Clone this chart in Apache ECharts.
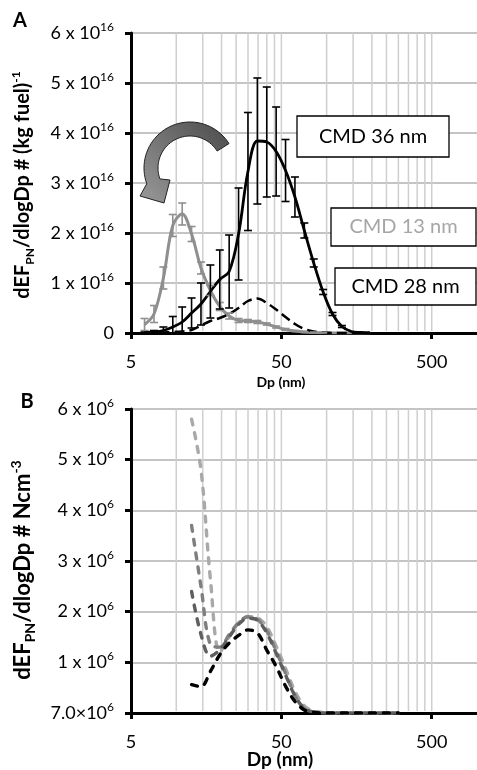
<!DOCTYPE html>
<html>
<head>
<meta charset="utf-8">
<script src="https://cdn.jsdelivr.net/npm/echarts@6/dist/echarts.min.js"></script>
<style>
  html, body { margin: 0; padding: 0; background: #fff; }
  #chart { width: 477px; height: 770px; }
</style>
</head>
<body>
<div id="chart"></div>
<script>
const FONT = 'Lato';
const log10 = Math.log10;

// ---- Panel A: emission factor size distributions (values in units of 1e16 per kg fuel)
const dpA = [6.15, 7.11, 8.21, 9.48, 10.95, 12.64, 14.6, 16.86, 19.47, 22.48, 25.96, 29.98,
             34.62, 39.98, 46.16, 53.3, 61.55, 71.08, 82.08, 94.78, 109.4, 126.4, 146.0, 168.6, 194.6];
const cmd13    = [0.17, 0.38, 1.1, 2.15, 2.38, 1.98, 1.3, 0.85, 0.53, 0.34, 0.25, 0.24,
                  0.22, 0.18, 0.12, 0.07, 0.04, 0.02, 0.01, 0.005, 0, 0, 0, 0, 0];
const cmd13Err = [0.12, 0.17, 0.22, 0.22, 0.22, 0.15, 0.12, 0.1, 0.08, 0.06, 0.04, 0.03,
                  0.03, 0.02, 0.02, 0.02, 0.01, 0.01, 0.01, 0.01, 0, 0, 0, 0, 0];
const cmd36    = [0.01, 0.02, 0.05, 0.12, 0.22, 0.4, 0.58, 0.83, 1.07, 1.23, 1.98, 3.23,
                  3.84, 3.82, 3.63, 3.25, 2.72, 2.05, 1.4, 0.82, 0.38, 0.13, 0.03, 0.01, 0];
const cmd36Err = [0.01, 0.03, 0.07, 0.21, 0.3, 0.3, 0.42, 0.53, 0.59, 0.73, 0.92, 1.18,
                  1.26, 1.1, 0.89, 0.62, 0.4, 0.15, 0.08, 0.05, 0.03, 0.02, 0, 0, 0];
const cmd28    = [0, 0, 0.01, 0.02, 0.03, 0.06, 0.15, 0.24, 0.3, 0.38, 0.5, 0.64,
                  0.69, 0.6, 0.47, 0.32, 0.18, 0.08, 0.03, 0.01, 0, 0, 0, 0, 0];

// ---- Panel B: number concentration distributions (values in units of 1e6 per Ncm3)
const dpB = [12.64, 14.6, 16.86, 19.47, 22.48, 25.96, 29.98, 34.62, 39.98, 46.16, 53.3, 61.55,
             71.08, 82.08, 94.78, 109.4, 126.4, 146.0, 168.6, 194.6, 224.8, 259.6, 299.7];
const nLight = [5.8, 4.8, 2.65, 1.2, 1.5, 1.78, 1.9, 1.88, 1.7, 1.32, 0.88, 0.43,
                0.14, 0.04, 0.01, 0, 0, 0, 0, 0, 0, 0, 0];
const nMid   = [3.7, 2.5, 1.35, 1.3, 1.55, 1.78, 1.9, 1.85, 1.62, 1.22, 0.78, 0.35,
                0.09, 0.02, 0.01, 0, 0, 0, 0, 0, 0, 0, 0];
const nDark  = [2.4, 1.55, 1.12, 1.25, 1.5, 1.75, 1.87, 1.83, 1.58, 1.18, 0.75, 0.34,
                0.09, 0.02, 0, 0, 0, 0, 0, 0, 0, 0, 0];
const nBlack = [0.56, 0.52, 0.82, 1.15, 1.38, 1.53, 1.64, 1.58, 1.24, 0.92, 0.53, 0.23,
                0.06, 0.01, 0, 0, 0, 0, 0, 0, 0, 0, 0];

// ---- Axis ticks and gridlines
const xTickDp = [5, 50, 500];
const xGridDp = [10, 15, 20, 25, 30, 35, 40, 45, 50, 100, 150, 200, 250, 300, 350, 400, 450, 500];
const expA = '16';
const expB = '6';
const zeroLabelB = '7.0×10';

const pts = (dp, v) => dp.map((d, i) => [log10(d), v[i]]);

function xAxisCfg(gridIndex) {
  return {
    type: 'value', gridIndex, min: log10(5), max: 3, z: 1,
    axisLine: { show: true, onZero: false, lineStyle: { color: '#000', width: 3 } },
    axisTick: { show: true, customValues: xTickDp.map(log10), length: 6,
                lineStyle: { color: '#000', width: 3 } },
    axisLabel: { customValues: xTickDp.map(log10), color: '#000', fontFamily: FONT, fontSize: 18, margin: 20,
                 formatter: v => String(Math.round(Math.pow(10, v))) },
    splitLine: { show: false }
  };
}

function yAxisCfg(gridIndex, exp, zeroText) {
  return {
    type: 'value', gridIndex, min: 0, max: 6, interval: 1, z: 0,
    axisLine: { show: true, onZero: false, lineStyle: { color: '#000', width: 3 } },
    axisTick: { show: true, length: 6, lineStyle: { color: '#000', width: 3 } },
    axisLabel: {
      margin: 17, color: '#000',
      formatter: v => {
        if (v === 0) return zeroText ? `{m|${zeroText}}{s|${exp}}` : '{m|0}';
        return `{m|${v} x 10}{s|${exp}}`;
      },
      rich: {
        m: { fontFamily: FONT, fontSize: 18, lineHeight: 24, color: '#000' },
        s: { fontFamily: FONT, fontSize: 12, lineHeight: 12, verticalAlign: 'top', color: '#000' }
      }
    },
    splitLine: { show: true, lineStyle: { color: '#b0b0b0', width: 1.5 } }
  };
}

function gridLineSeries(axisIdx) {
  return {
    type: 'custom', xAxisIndex: axisIdx, yAxisIndex: axisIdx, silent: true, z: 1,
    data: xGridDp.map(d => [log10(d), 0, 6]),
    renderItem: (params, api) => {
      const a = api.coord([api.value(0), api.value(1)]);
      const b = api.coord([api.value(0), api.value(2)]);
      return { type: 'line', shape: { x1: a[0], y1: a[1] - 2, x2: b[0], y2: b[1] },
               style: { stroke: '#cfcfcf', lineWidth: 1.5 } };
    }
  };
}

function errSeries(dp, v, e, color) {
  return {
    type: 'custom', xAxisIndex: 0, yAxisIndex: 0, silent: true, z: 4,
    data: dp.map((d, i) => [log10(d), v[i], e[i]]).filter(p => p[2] > 0),
    renderItem: (params, api) => {
      const x = api.value(0), y = api.value(1), er = api.value(2);
      const t = api.coord([x, y + er]);
      const b = api.coord([x, Math.max(y - er, 0)]);
      const hw = 4;
      const st = { stroke: color, lineWidth: 1.6 };
      return { type: 'group', children: [
        { type: 'line', shape: { x1: t[0], y1: t[1], x2: b[0], y2: b[1] }, style: st },
        { type: 'line', shape: { x1: t[0] - hw, y1: t[1], x2: t[0] + hw, y2: t[1] }, style: st },
        { type: 'line', shape: { x1: b[0] - hw, y1: b[1], x2: b[0] + hw, y2: b[1] }, style: st }
      ]};
    }
  };
}

function lineSeries(axisIdx, dp, v, color, width, dash, z, cap) {
  return {
    type: 'line', xAxisIndex: axisIdx, yAxisIndex: axisIdx, data: pts(dp, v),
    smooth: 0.35, symbol: 'none', silent: true, z: z || 2,
    lineStyle: { color, width, type: dash || 'solid', cap: cap || 'butt' }
  };
}

// Curved arrow outline: thick arc band with a short arrowhead at its lower-left end
function arrowPoints() {
  const cx = 190, cy = 168, R = 46, r = 32;
  const deg = Math.PI / 180;
  const p = [];
  for (let a = -32; a >= -200; a -= 4) p.push([cx + R * Math.cos(a * deg), cy + R * Math.sin(a * deg)]);
  p.push([140, 196], [164, 203], [170, 180]);
  for (let a = -200; a <= -30; a += 4) p.push([cx + r * Math.cos(a * deg), cy + r * Math.sin(a * deg)]);
  return p;
}

const nameRich = (size) => ({
  b:   { fontFamily: FONT, fontWeight: 'bold', fontSize: size, lineHeight: size + 6, fill: '#000' },
  sub: { fontFamily: FONT, fontWeight: 'bold', fontSize: Math.round(size * 0.62), lineHeight: 12,
         verticalAlign: 'bottom', fill: '#000' },
  sup: { fontFamily: FONT, fontWeight: 'bold', fontSize: Math.round(size * 0.62), lineHeight: 12,
         verticalAlign: 'top', fill: '#000' }
});

function labelBox(x, y, w, h, text, color) {
  return { type: 'group', children: [
    { type: 'rect', z: 100, shape: { x, y, width: w, height: h },
      style: { fill: '#fff', stroke: '#000', lineWidth: 1.3 } },
    { type: 'text', z: 101, x: x + w / 2, y: y + h / 2,
      style: { text, fill: color, fontFamily: FONT, fontSize: 20, align: 'center', verticalAlign: 'middle' } }
  ]};
}

function plainText(x, y, text, size) {
  return { type: 'text', z: 100, x, y, style: { text, fontFamily: FONT, fontWeight: 'bold', fontSize: size,
           fill: '#000', align: 'center', verticalAlign: 'middle' } };
}

const chart = echarts.init(document.getElementById('chart'), null, { renderer: 'canvas' });
chart.setOption({
  animation: false,
  backgroundColor: '#fff',
  grid: [
    { left: 131, top: 33, width: 346, height: 300 },
    { left: 131, top: 409, width: 352, height: 304 }
  ],
  xAxis: [xAxisCfg(0), xAxisCfg(1)],
  yAxis: [yAxisCfg(0, expA, null), yAxisCfg(1, expB, zeroLabelB)],
  series: [
    gridLineSeries(0),
    gridLineSeries(1),
    lineSeries(0, dpA, cmd13, '#8f8f8f', 3),
    errSeries(dpA, cmd13, cmd13Err, '#8f8f8f'),
    lineSeries(0, dpA, cmd28, '#000', 2.5, [10, 5], 3),
    lineSeries(0, dpA, cmd36, '#000', 2.8, null, 3),
    errSeries(dpA, cmd36, cmd36Err, '#000'),
    lineSeries(1, dpB, nLight, '#a9a9a9', 3.4, [6, 8], 2, 'round'),
    lineSeries(1, dpB, nMid, '#7f7f7f', 3.4, [6, 8], 2, 'round'),
    lineSeries(1, dpB, nDark, '#5f5f5f', 3.4, [6, 8], 2, 'round'),
    lineSeries(1, dpB, nBlack, '#000', 3.4, [6, 8], 3, 'round')
  ],
  graphic: [
    plainText(20, 21, 'A', 20),
    plainText(27, 402, 'B', 20),
    { type: 'text', z: 100, x: 23, y: 185, rotation: Math.PI / 2,
      style: { text: '{b|dEF}{sub|PN}{b|/dlogDp # (kg fuel)}{sup|-1}', rich: nameRich(20),
               align: 'center', verticalAlign: 'middle' } },
    { type: 'text', z: 100, x: 23, y: 570, rotation: Math.PI / 2,
      style: { text: '{b|dEF}{sub|PN}{b|/dlogDp # Ncm}{sup|-3}', rich: nameRich(22),
               align: 'center', verticalAlign: 'middle' } },
    plainText(281, 382, 'Dp (nm)', 14),
    plainText(280, 760, 'Dp (nm)', 19),
    {
      type: 'polygon', z: 100,
      shape: { points: arrowPoints() },
      style: {
        fill: new echarts.graphic.LinearGradient(1, 0, 0, 1, [
          { offset: 0, color: '#4a4a4a' }, { offset: 1, color: '#9a9a9a' }
        ]),
        stroke: '#222', lineWidth: 1
      }
    },
    labelBox(297, 116, 152, 41, 'CMD 36 nm', '#000'),
    labelBox(331, 208, 145, 38, 'CMD 13 nm', '#a6a6a6'),
    labelBox(335, 268, 141, 37, 'CMD 28 nm', '#000')
  ]
});
</script>
</body>
</html>
